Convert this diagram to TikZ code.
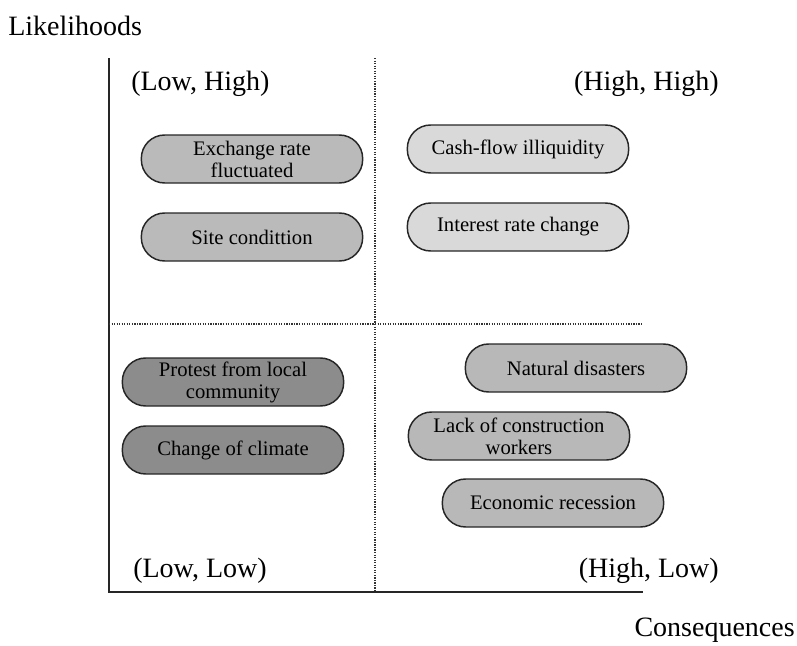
\documentclass[tikz,border=0pt]{standalone}
\usepackage{fontspec}
\setmainfont{Liberation Serif}
\begin{document}
\begin{tikzpicture}[x=0.75pt,y=-0.75pt,
  risk/.style={draw=black!85, line width=1.1pt, rounded corners=17.5pt,
    minimum width=166pt, minimum height=36pt, inner sep=1pt,
    align=center, font=\fontsize{15.5}{16.5}\selectfont},
  lowhigh/.style={risk, fill=black!27},
  highhigh/.style={risk, fill=black!15},
  lowlow/.style={risk, fill=black!45},
  highlow/.style={risk, fill=black!28},
  corner/.style={font=\fontsize{21}{25}\selectfont, inner sep=0pt},
  axis/.style={line width=1.3pt, black!85},
  divider/.style={line width=0.9pt, black!80, densely dotted}]
\useasboundingbox (0,0) rectangle (797,646);

% axes and quadrant dividers
\coordinate (origin) at (109,592);
\coordinate (ytop) at (109,58);
\coordinate (xend) at (643,592);
\coordinate (vtop) at (375,58);
\coordinate (vbot) at (375,592);
\coordinate (hleft) at (109,324);
\coordinate (hright) at (643,324);
\draw[axis] (ytop) -- (origin) -- (xend);
\draw[divider] (vtop) -- (vbot);
\draw[divider] (hleft) -- (hright);

% axis titles
\node[corner, anchor=west] (ylab) at (8,26) {Likelihoods};
\node[corner, anchor=east] (xlab) at (795,630) {Consequences};

% quadrant labels
\node[corner, anchor=west] (qlh) at (131,84) {(Low, High)};
\node[corner, anchor=east] (qhh) at (719,84) {(High, High)};
\node[corner, anchor=west] (qll) at (133,571) {(Low, Low)};
\node[corner, anchor=east] (qhl) at (719,571) {(High, Low)};

% (Low, High)
\node[lowhigh] (exch) at (252,159) {Exchange rate\\fluctuated};
\node[lowhigh] (site) at (252,237) {Site condittion};

% (High, High)
\node[highhigh] (cash) at (518,149) {Cash-flow illiquidity};
\node[highhigh] (rate) at (518,227) {Interest rate change};

% (Low, Low)
\node[lowlow] (protest) at (233,382) {Protest from local\\community};
\node[lowlow] (climate) at (233,450) {Change of climate};

% (High, Low)
\node[highlow] (natural) at (576,368) {Natural disasters};
\node[highlow] (labour) at (519,436) {Lack of construction\\workers};
\node[highlow] (recess) at (553,503) {Economic recession};
\end{tikzpicture}
\end{document}
